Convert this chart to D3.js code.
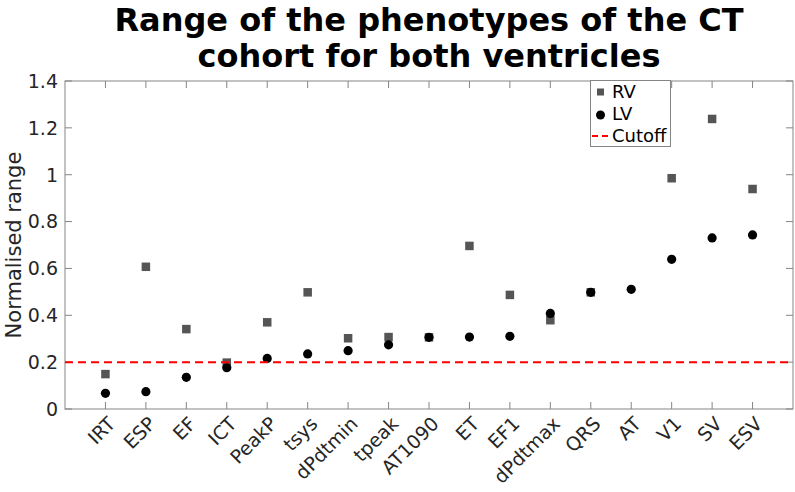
<!DOCTYPE html>
<html>
<head>
<meta charset="utf-8">
<script src="https://cdn.jsdelivr.net/npm/d3@7"></script>
<style>
  body { margin: 0; background: #fff; }
  text { font-family: "DejaVu Sans", sans-serif; }
</style>
</head>
<body>
<div id="chart"></div>
<script>
// phenotype names, sorted by LV range
const phenotypes = ["IRT", "ESP", "EF", "ICT", "PeakP", "tsys", "dPdtmin", "tpeak", "AT1090",
    "ET", "EF1", "dPdtmax", "QRS", "AT", "V1", "SV", "ESV"];
// RV for AT not visible in the plot
const rvRange = [0.149, 0.607, 0.341, 0.198, 0.370, 0.498, 0.302, 0.307, 0.306,
    0.696, 0.487, 0.379, 0.498, null, 0.985, 1.238, 0.939];
const lvRange = [0.067, 0.074, 0.135, 0.176, 0.216, 0.235, 0.249, 0.274, 0.306,
    0.307, 0.310, 0.408, 0.498, 0.511, 0.639, 0.730, 0.743];
const cutoff = 0.2;
const yTicks = [0, 0.2, 0.4, 0.6, 0.8, 1, 1.2, 1.4];

const width = 795, height = 492;
const margin = {top: 81, right: 2, bottom: 83, left: 65};

const svg = d3.select("#chart")
    .append("svg")
    .attr("width", width)
    .attr("height", height);

const x = d3.scaleLinear()
    .domain([0, phenotypes.length + 1])
    .range([margin.left, width - margin.right]);
const y = d3.scaleLinear()
    .domain([0, 1.4])
    .range([height - margin.bottom, margin.top]);

const axisColor = "#858585";
const textColor = "#262626";

// box
svg.append("rect")
    .attr("x", margin.left)
    .attr("y", margin.top)
    .attr("width", width - margin.right - margin.left)
    .attr("height", height - margin.bottom - margin.top)
    .attr("fill", "none")
    .attr("stroke", axisColor)
    .attr("stroke-width", 1);

// x ticks, bottom and top
const idx = phenotypes.map((d, i) => i + 1);
svg.append("g").selectAll("line").data(idx).join("line")
    .attr("x1", d => x(d)).attr("x2", d => x(d))
    .attr("y1", y(0)).attr("y2", y(0) - 7)
    .attr("stroke", axisColor);
svg.append("g").selectAll("line").data(idx).join("line")
    .attr("x1", d => x(d)).attr("x2", d => x(d))
    .attr("y1", y(1.4)).attr("y2", y(1.4) + 7)
    .attr("stroke", axisColor);

// y ticks left and right
svg.append("g").selectAll("line").data(yTicks).join("line")
    .attr("x1", margin.left).attr("x2", margin.left + 7)
    .attr("y1", d => y(d)).attr("y2", d => y(d))
    .attr("stroke", axisColor);
svg.append("g").selectAll("line").data(yTicks).join("line")
    .attr("x1", width - margin.right).attr("x2", width - margin.right - 7)
    .attr("y1", d => y(d)).attr("y2", d => y(d))
    .attr("stroke", axisColor);

// y tick labels
svg.append("g").selectAll("text").data(yTicks).join("text")
    .attr("x", margin.left - 7)
    .attr("y", d => y(d))
    .attr("dy", "0.36em")
    .attr("text-anchor", "end")
    .style("font-size", "19px")
    .attr("fill", textColor)
    .text(d => d);

// x tick labels, rotated
svg.append("g").selectAll("text").data(phenotypes).join("text")
    .attr("text-anchor", "end")
    .attr("transform", (d, i) => `translate(${x(i + 1) + 11},${y(0) + 16}) rotate(-45)`)
    .style("font-size", "19px")
    .attr("fill", textColor)
    .text(d => d);

// RV squares
const sq = 8.5;
svg.append("g").selectAll("rect").data(rvRange.map((v, i) => [i + 1, v]).filter(d => d[1] != null))
    .join("rect")
    .attr("x", d => x(d[0]) - sq / 2)
    .attr("y", d => y(d[1]) - sq / 2)
    .attr("width", sq).attr("height", sq)
    .attr("fill", "#555555");

// LV circles
svg.append("g").selectAll("circle").data(lvRange).join("circle")
    .attr("cx", (d, i) => x(i + 1))
    .attr("cy", d => y(d))
    .attr("r", 4.6)
    .attr("fill", "#000");

// cutoff line
svg.append("line")
    .attr("x1", margin.left).attr("x2", width - margin.right)
    .attr("y1", y(cutoff)).attr("y2", y(cutoff))
    .attr("stroke", "#ff0000")
    .attr("stroke-width", 2)
    .attr("stroke-dasharray", "8,5");

// legend
const lg = svg.append("g");
lg.append("rect")
    .attr("x", 590.5).attr("y", 80.5)
    .attr("width", 80).attr("height", 66)
    .attr("fill", "#fff")
    .attr("stroke", axisColor);
lg.append("rect").attr("x", 597).attr("y", 88.5).attr("width", 7).attr("height", 7).attr("fill", "#555555");
lg.append("circle").attr("cx", 600.5).attr("cy", 115).attr("r", 4.5).attr("fill", "#000");
lg.append("line").attr("x1", 592).attr("x2", 611).attr("y1", 136).attr("y2", 136)
    .attr("stroke", "#ff0000").attr("stroke-width", 2).attr("stroke-dasharray", "6,4");
[["RV", 92], ["LV", 114], ["Cutoff", 136]].forEach(([t, yy]) => {
    lg.append("text").attr("x", 612).attr("y", yy).attr("dy", "0.36em")
        .style("font-size", "18px").attr("fill", "#000").text(t);
});

// y label
svg.append("text")
    .attr("text-anchor", "middle")
    .attr("transform", `translate(21,${(margin.top + height - margin.bottom) / 2}) rotate(-90)`)
    .style("font-size", "21px")
    .attr("fill", textColor)
    .text("Normalised range");

// title
const cx = (margin.left + width - margin.right) / 2;
svg.append("text").attr("x", cx).attr("y", 31).attr("text-anchor", "middle")
    .style("font-size", "32px").style("font-weight", "bold").attr("fill", "#000")
    .text("Range of the phenotypes of the CT");
svg.append("text").attr("x", cx).attr("y", 67).attr("text-anchor", "middle")
    .style("font-size", "32px").style("font-weight", "bold").attr("fill", "#000")
    .text("cohort for both ventricles");
</script>
</body>
</html>
